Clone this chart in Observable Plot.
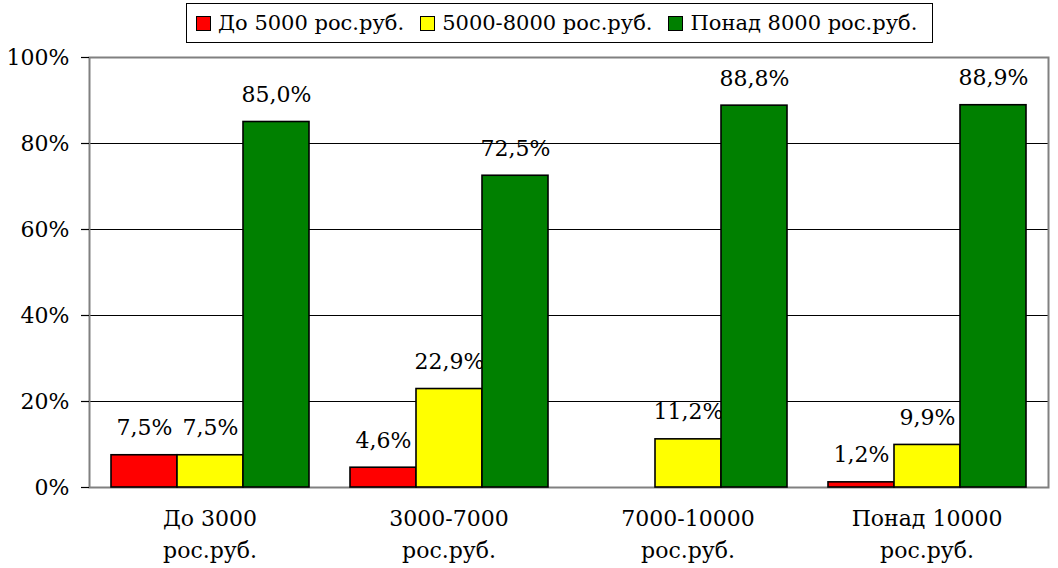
<!DOCTYPE html>
<html>
<head>
<meta charset="utf-8">
<script src="https://cdn.jsdelivr.net/npm/d3@7"></script>
<script src="https://cdn.jsdelivr.net/npm/@observablehq/plot@0.6"></script>
<style>
  body { margin: 0; background: white; font-family: "DejaVu Serif", serif; }
  #legendWrap { position: relative; width: 1058px; height: 48px; }
  #legend { position: absolute; left: 186px; top: 3px; width: 747px; height: 40px; border: 1px solid black;
    display: flex; align-items: center; font-size: 21px; color: black; box-sizing: border-box; padding-left: 9px; }
  .item { display: flex; align-items: center; margin-right: 16px; white-space: nowrap; }
  .sw { width: 13px; height: 13px; border: 1.5px solid black; margin-right: 7px; }
  #chart { position: relative; width: 1058px; height: 520px; }
  #chart svg { position: absolute; left: 0; top: 0; }
</style>
</head>
<body>
<div id="legendWrap"><div id="legend"></div></div>
<div id="chart"></div>
<script>
const categories = ["До 3000\nрос.руб.", "3000-7000\nрос.руб.", "7000-10000\nрос.руб.", "Понад 10000\nрос.руб."];
const series = ["До 5000 рос.руб.", "5000-8000 рос.руб.", "Понад 8000 рос.руб."];
const low = [7.5, 4.6, null, 1.2];
const mid = [7.5, 22.9, 11.2, 9.9];
const high = [85.0, 72.5, 88.8, 88.9];
const colors = ["#ff0000", "#ffff00", "#008000"];
const yTicks = [0, 20, 40, 60, 80, 100];
const gridTicks = [20, 40, 60, 80];

const FONT = '"DejaVu Serif", serif';

const seriesValues = [low, mid, high];
const rows = [];
categories.forEach((c, i) => {
  series.forEach((s, j) => {
    rows.push({cat: c, series: s, value: seriesValues[j][i]});
  });
});

// Legend
const legend = document.getElementById("legend");
series.forEach((s, j) => {
  const it = document.createElement("div");
  it.className = "item";
  const sw = document.createElement("div");
  sw.className = "sw";
  sw.style.background = colors[j];
  it.appendChild(sw);
  const t = document.createElement("span");
  t.textContent = s;
  it.appendChild(t);
  legend.appendChild(it);
});

const common = {
  width: 1058, height: 520,
  marginTop: 9, marginBottom: 81, marginLeft: 89, marginRight: 10
};

const grid = Plot.plot({
  ...common,
  style: {fontFamily: FONT, fontSize: "22px", background: "white", color: "black", overflow: "visible"},
  y: {domain: [0, 100], axis: null},
  marks: [
    Plot.ruleY(gridTicks, {stroke: "black", strokeWidth: 1}),
    Plot.frame({stroke: "#808080", strokeWidth: 2}),
    Plot.axisY({ticks: yTicks, tickFormat: d => d + "%", tickSize: 8, tickPadding: 12, fontSize: 22, label: null, stroke: "black", strokeWidth: 1.2})
  ]
});

const bars = Plot.plot({
  ...common,
  style: {fontFamily: FONT, fontSize: "22px", background: "transparent", color: "black", overflow: "visible"},
  fx: {domain: categories, paddingInner: 0.167, paddingOuter: 0.083, axis: null, label: null},
  x: {domain: series, padding: 0, axis: null},
  y: {domain: [0, 100], axis: null},
  color: {domain: series, range: colors},
  marks: [
    Plot.text(rows.filter(d => d.value != null), {
      fx: "cat", x: "series", y: "value",
      text: d => d.value.toFixed(1).replace(".", ",") + "%",
      dy: -27, lineAnchor: "middle", fontSize: 22, fill: "black"
    }),
    Plot.barY(rows.filter(d => d.value != null), {
      fx: "cat", x: "series", y: "value", fill: "series", stroke: "black", strokeWidth: 1.6
    }),
    Plot.axisFx({anchor: "bottom", tickSize: 0, tickPadding: 16, lineHeight: 1.45, fontSize: 22, label: null})
  ]
});

const chart = document.getElementById("chart");
chart.appendChild(grid);
chart.appendChild(bars);
</script>
</body>
</html>
